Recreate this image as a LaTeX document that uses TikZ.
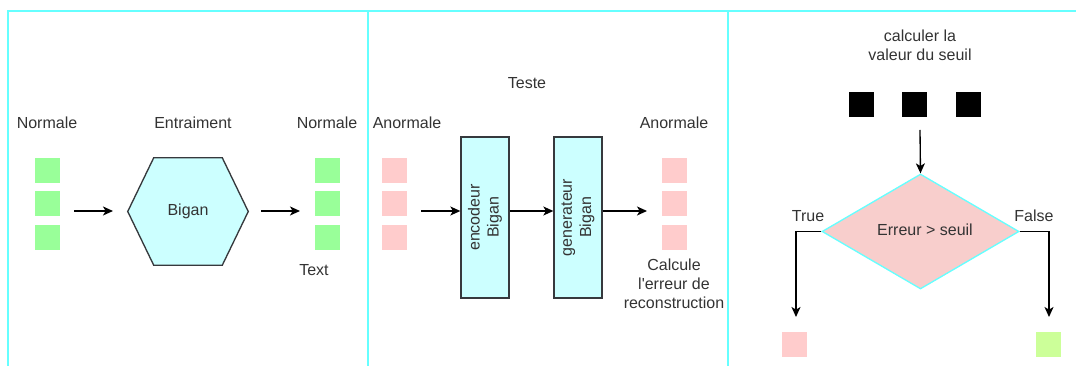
\documentclass[tikz,border=0pt]{standalone}
\usepackage{fontspec}
\setmainfont{Liberation Sans}
\usetikzlibrary{shapes.geometric,arrows.meta,calc,backgrounds}
\definecolor{txt}{HTML}{333333}
\definecolor{framec}{HTML}{66FFFF}
\definecolor{okgreen}{HTML}{99FF99}
\definecolor{badpink}{HTML}{FFCCCC}
\definecolor{decpink}{HTML}{F8CECC}
\definecolor{lightgreen}{HTML}{CCFF99}
\definecolor{cyanfill}{HTML}{CCFFFF}
\definecolor{edge}{HTML}{36393D}
\begin{document}
\begin{tikzpicture}[x=0.75pt,y=-0.75pt,
  lbl/.style={text=txt,font=\fontsize{12}{14.4}\selectfont,inner sep=0pt,align=center},
  sq/.style={minimum size=18.75pt,inner sep=0pt,outer sep=0pt},
  arr/.style={draw=black,line width=1pt,-{Stealth[length=7.5pt,width=6.75pt,inset=2pt]}},
  panel/.style={draw=framec,line width=1pt},
  block/.style={draw=edge,line width=1pt,fill=cyanfill,rotate=90,
    minimum width=120.75pt,minimum height=36pt,inner sep=0pt,
    text=txt,font=\fontsize{12}{14.4}\selectfont,align=center}]
\useasboundingbox (0,0) rectangle (1076,366);

% panel frames
\draw[panel] (8,366) -- (8,11) -- (1076,11);
\draw[panel] (368,11) -- (368,366);
\draw[panel] (728,11) -- (728,366);

% ---------- training ----------
\node[lbl] (n1) at (47,123) {Normale};
\node[lbl] (ent) at (193,123) {Entraiment};
\node[lbl] (n2) at (327,123) {Normale};
\foreach \y [count=\i] in {170.5,204,237.5}{
  \node[sq,fill=okgreen] (gi\i) at (47.5,\y) {};
  \node[sq,fill=okgreen] (go\i) at (327.5,\y) {};
}
\node[lbl] (hex) at (188,211.5) [minimum width=90pt,minimum height=80.25pt] {Bigan};
\begin{scope}[on background layer]
\draw[draw=edge,line width=1pt,fill=cyanfill]
  (hex.west) -- ($(hex.north west)+(26,0)$) -- ($(hex.north east)+(-26,0)$)
  -- (hex.east) -- ($(hex.south east)+(-26,0)$) -- ($(hex.south west)+(26,0)$) -- cycle;
\end{scope}
\node[lbl] (txtlbl) at (314,270) {Text};
\coordinate (a1s) at (74,211);
\coordinate (a1e) at (113,211);
\coordinate (a2s) at (261,211);
\coordinate (a2e) at (300,211);
\draw[arr] (a1s) -- (a1e);
\draw[arr] (a2s) -- (a2e);

% ---------- test ----------
\node[lbl] (teste) at (527,83) {Teste};
\node[lbl] (an1) at (407,123) {Anormale};
\node[lbl] (an2) at (674,123) {Anormale};
\foreach \y [count=\i] in {170.5,204,237.5}{
  \node[sq,fill=badpink] (pi\i) at (394.5,\y) {};
  \node[sq,fill=badpink] (po\i) at (674.5,\y) {};
}
\node[block] (enc) at (485,217.5) {encodeur\\Bigan};
\node[block] (gen) at (578,217.5) {generateur\\Bigan};
\coordinate (m1) at (421,211);
\coordinate (m3) at (647,211);
\draw[arr] (m1) -- (m1 -| enc.north);
\draw[arr] (enc.south |- m1) -- (gen.north |- m1);
\draw[arr] (gen.south |- m1) -- (m3);
\node[lbl] (calc) at (674,284) {Calcule\\l\textquotesingle erreur de\\reconstruction};

% ---------- threshold ----------
\node[lbl] (seuil) at (920,45) {calculer la\\valeur du seuil};
\node[sq,fill=black] (b1) at (861.5,104.5) {};
\node[sq,fill=black] (b2) at (914.5,104.5) {};
\node[sq,fill=black] (b3) at (968.5,104.5) {};
\node[diamond,draw=framec,line width=1pt,fill=decpink,aspect=1.71,
  minimum width=147.75pt,minimum height=86.25pt,inner sep=0pt] (dec) at (920.5,231.5) {};
\node[lbl] (declbl) at (925,230) {Erreur > seuil};
\coordinate (ds) at (920,130);
\draw[arr] (ds) -- (dec.north);
\coordinate (te) at (796,317);
\coordinate (fe) at (1049,317);
\draw[arr] (dec.west) -| (te);
\draw[arr] (dec.east) -| (fe);
\node[lbl] (truel) at (808,216) {True};
\node[lbl] (falsel) at (1034,216) {False};
\node[sq,fill=badpink] (rt) at (794.5,344.5) {};
\node[sq,fill=lightgreen] (rf) at (1048.5,344.5) {};
\end{tikzpicture}
\end{document}
